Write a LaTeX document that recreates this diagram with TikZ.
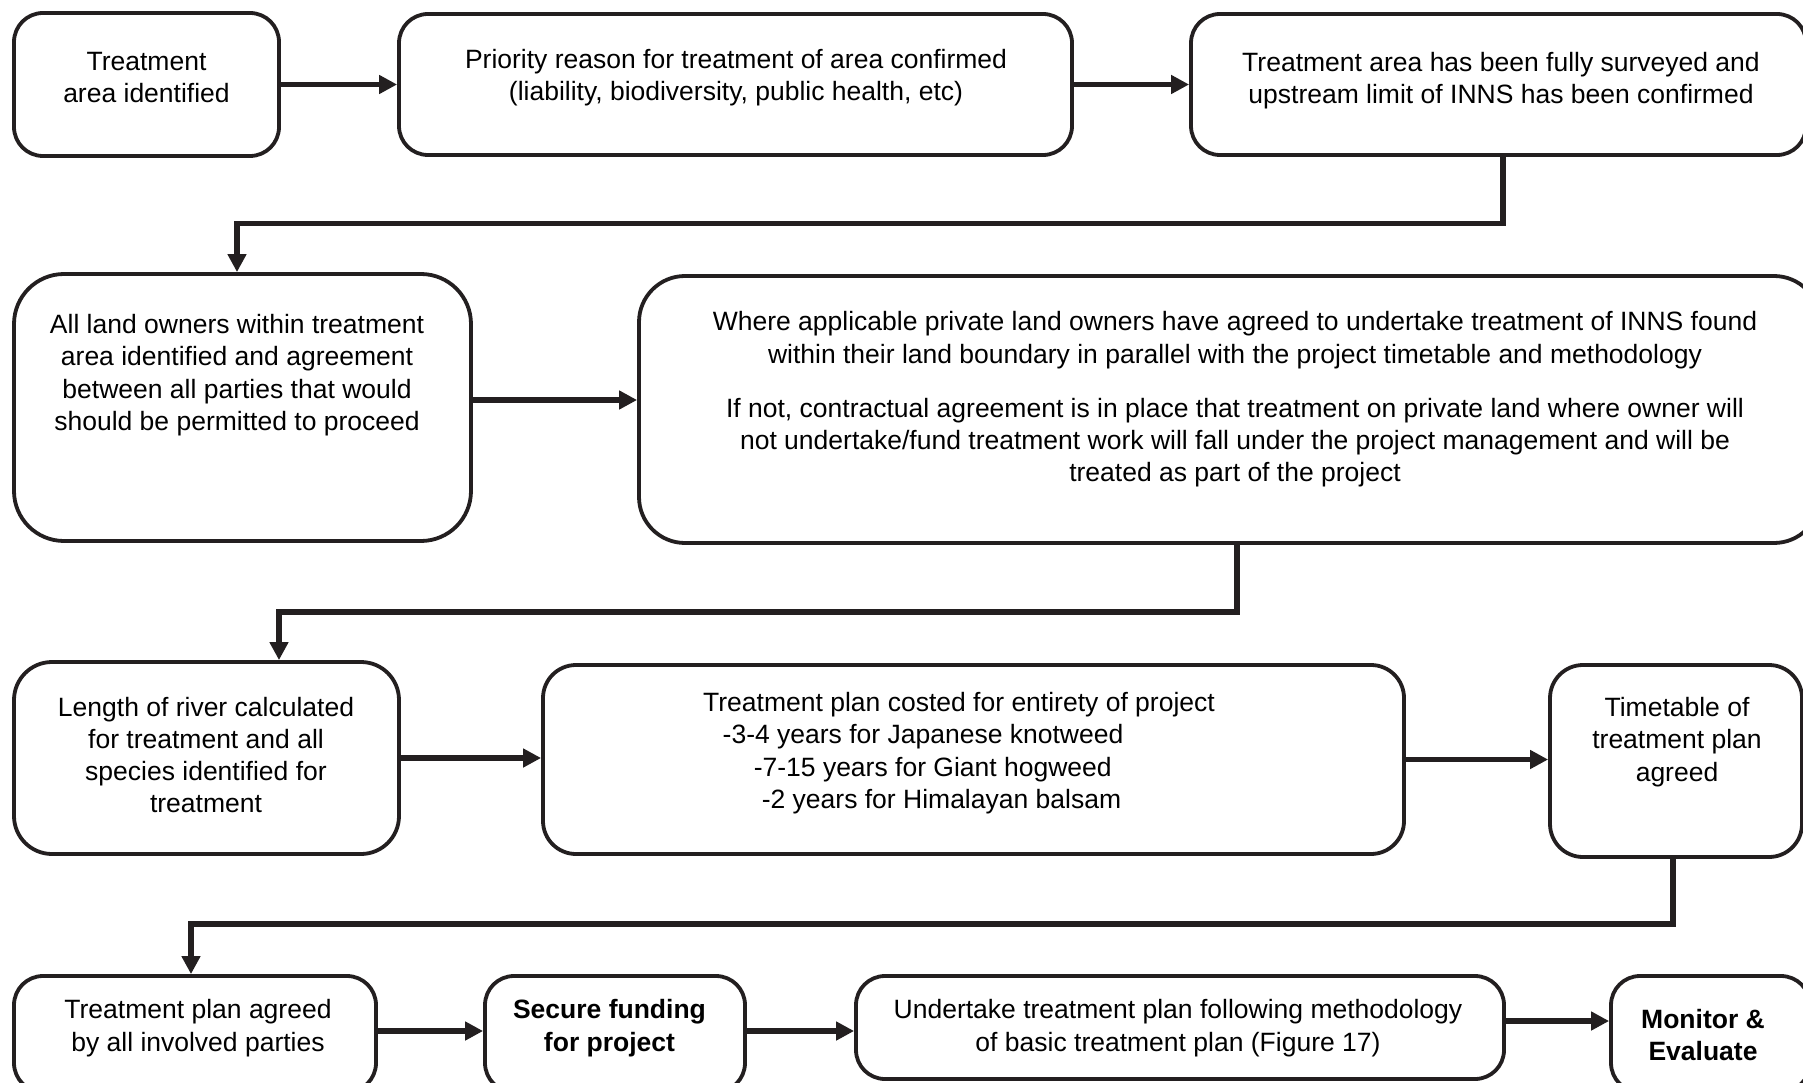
\documentclass[tikz,border=0pt]{standalone}
\usepackage{fontspec}
\setmainfont{Liberation Sans}
\usetikzlibrary{arrows.meta,calc}
\definecolor{ink}{RGB}{35,31,32}
\begin{document}
\begin{tikzpicture}[x=1pt,y=-1pt,
  box/.style={draw=ink,line width=3.8pt,fill=white,inner sep=0pt},
  txt/.style={font=\fontsize{26.5}{32.3}\selectfont,align=center,inner sep=0pt,text=black},
  btxt/.style={txt,font=\fontsize{26.5}{32.3}\selectfont\bfseries},
  conn/.style={draw=ink,line width=5.4pt,line join=miter,-{Triangle[length=18pt,width=18pt]}}]
\useasboundingbox (0,0) rectangle (1803,1083);
\clip (0,0) rectangle (1803,1083);
\fill[white] (0,0) rectangle (1803,1083);
% row 1
\node[box,rounded corners=29pt,minimum width=265pt,minimum height=143pt] (A) at (146.5,84.5) {};
\node[box,rounded corners=29pt,minimum width=673pt,minimum height=141pt] (B) at (735.5,84.5) {};
\node[box,rounded corners=29pt,minimum width=615pt,minimum height=141pt] (C) at (1498.5,84.5) {};
\node[txt] (At) at (146.5,77.5) {Treatment\\area identified};
\node[txt] (Bt) at (736,77.5) {Priority reason for treatment of area confirmed\\(liability, biodiversity, public health, etc)};
\node[txt] (Ct) at (1501,81) {Treatment area has been fully surveyed and\\upstream limit of INNS has been confirmed};
% row 2
\node[box,rounded corners=50pt,minimum width=457pt,minimum height=267pt] (D) at (242.5,407.5) {};
\node[box,rounded corners=46pt,minimum width=1181pt,minimum height=267pt] (E) at (1229.5,409.5) {};
\node[txt] (Dt) at (237,375) {All land owners within treatment\\area identified and agreement\\between all parties that would\\should be permitted to proceed};
\node[txt] (Et) at (1235,399.5) {Where applicable private land owners have agreed to undertake treatment of INNS found\\within their land boundary in parallel with the project timetable and methodology\\[22pt]If not, contractual agreement is in place that treatment on private land where owner will\\not undertake/fund treatment work will fall under the project management and will be\\treated as part of the project};
% row 3
\node[box,rounded corners=38pt,minimum width=385pt,minimum height=192pt] (F) at (206.5,758) {};
\node[box,rounded corners=33pt,minimum width=861pt,minimum height=189pt] (G) at (973.5,759.5) {};
\node[box,rounded corners=33pt,minimum width=252pt,minimum height=192pt] (H) at (1676,761) {};
\node[txt] (Ft) at (206,755) {Length of river calculated\\for treatment and all\\species identified for\\treatment};
\node[txt,align=left,anchor=west] (Gt) at (703,753) {Treatment plan costed for entirety of project\\\hspace*{19.5pt}-3-4 years for Japanese knotweed\\\hspace*{50.6pt}-7-15 years for Giant hogweed\\\hspace*{58.6pt}-2 years for Himalayan balsam};
\node[txt] (Ht) at (1677,742) {Timetable of\\treatment plan\\agreed};
% row 4
\node[box,rounded corners=29pt,minimum width=362pt,minimum height=116pt] (I) at (195,1034) {};
\node[box,rounded corners=29pt,minimum width=260pt,minimum height=116pt] (J) at (615,1034) {};
\node[box,rounded corners=29pt,minimum width=648pt,minimum height=103pt] (K) at (1180,1027.5) {};
\node[box,rounded corners=29pt,minimum width=199pt,minimum height=116pt] (L) at (1710.5,1034) {};
\node[txt] (It) at (198,1028) {Treatment plan agreed\\by all involved parties};
\node[btxt] (Jt) at (609.5,1028) {Secure funding\\for project};
\node[txt] (Kt) at (1178,1028) {Undertake treatment plan following methodology\\of basic treatment plan (Figure 17)};
\node[btxt] (Lt) at (1703,1035) {Monitor \&\\Evaluate};
% helper coordinates
\coordinate (yDE) at (0,400);
\coordinate (yR4) at (0,1031);
\coordinate (yKL) at (0,1021);
% connectors
\draw[conn] (A.east) -- (B.west);
\draw[conn] (B.east) -- (C.west);
\draw[conn] ($(C.south)+(4.5,0)$) |- ($(D.north)+(-5.5,-48.5)$) -- ($(D.north)+(-5.5,0)$);
\draw[conn] (D.east |- yDE) -- (E.west |- yDE);
\draw[conn] ($(E.south)+(7.5,0)$) |- ($(F.north)+(72.5,-48)$) -- ($(F.north)+(72.5,0)$);
\draw[conn] (F.east) -- (F.east -| G.west);
\draw[conn] (G.east) -- (G.east -| H.west);
\draw[conn] ($(H.south)+(-3,0)$) |- ($(I.north)+(-4,-50)$) -- ($(I.north)+(-4,0)$);
\draw[conn] (I.east |- yR4) -- (J.west |- yR4);
\draw[conn] (J.east |- yR4) -- (K.west |- yR4);
\draw[conn] (K.east |- yKL) -- (L.west |- yKL);
\end{tikzpicture}
\end{document}
